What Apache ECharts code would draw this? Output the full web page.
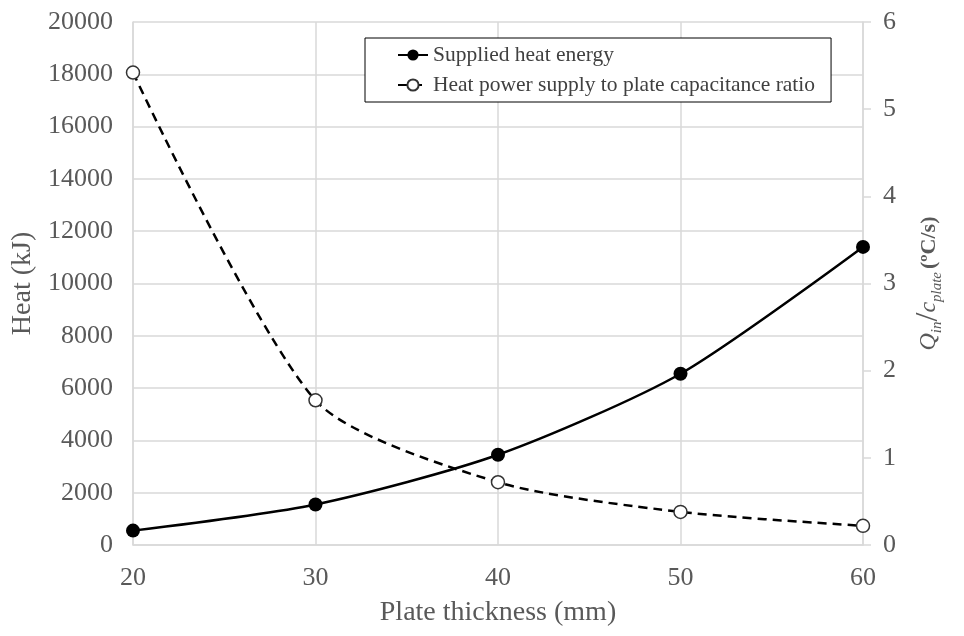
<!DOCTYPE html>
<html>
<head>
<meta charset="utf-8">
<script src="https://cdn.jsdelivr.net/npm/echarts@6/dist/echarts.min.js"></script>
<style>
  html, body { margin: 0; padding: 0; background: #fff; }
  #chart { width: 964px; height: 636px; }
</style>
</head>
<body>
<div id="chart"></div>
<script>
// plate thickness (mm)
var thickness = [20, 30, 40, 50, 60];
// supplied heat energy (kJ), left axis
var heatEnergy = [550, 1550, 3450, 6550, 11400];
// heat power supply / plate capacitance (ºC/s), right axis
var heatRatio = [5.42, 1.66, 0.72, 0.38, 0.22];

var seriesNames = ["Supplied heat energy", "Heat power supply to plate capacitance ratio"];

var FONT = "Liberation Serif";
var GREY = "#595959";
var GRID = "#d9d9d9";

function pairs(xs, ys) {
  return xs.map(function (x, i) { return [x, ys[i]]; });
}

var chart = echarts.init(document.getElementById("chart"), null, { renderer: "canvas" });

var option = {
  backgroundColor: "#fff",
  animation: false,
  textStyle: { fontFamily: FONT },
  grid: { left: 133, right: 101, top: 22, bottom: 91 },
  legend: {
    orient: "vertical",
    left: 365,
    top: 38,
    padding: [6, 16, 6, 32],
    itemWidth: 30,
    itemHeight: 14,
    itemGap: 8,
    borderColor: "#000",
    borderWidth: 1,
    backgroundColor: "#fff",
    textStyle: { fontFamily: FONT, fontSize: 21.5, color: "#404040" },
    data: seriesNames
  },
  xAxis: {
    type: "value",
    min: 20,
    max: 60,
    interval: 10,
    name: "Plate thickness (mm)",
    nameLocation: "middle",
    nameGap: 54,
    nameTextStyle: { fontFamily: FONT, fontSize: 28, color: GREY },
    axisLine: { show: true, lineStyle: { color: GRID, width: 1.5 } },
    axisTick: { show: false },
    axisLabel: { fontFamily: FONT, fontSize: 26, color: GREY, margin: 20 },
    splitLine: { show: true, lineStyle: { color: GRID, width: 1.5 } }
  },
  yAxis: [
    {
      type: "value",
      min: 0,
      max: 20000,
      interval: 2000,
      name: "Heat (kJ)",
      nameLocation: "middle",
      nameRotate: 90,
      nameGap: 88,
      nameTextStyle: { fontFamily: FONT, fontSize: 28, color: GREY },
      axisLine: { show: true, lineStyle: { color: GRID, width: 1.5 } },
      axisTick: { show: false },
      axisLabel: {
        fontFamily: FONT, fontSize: 26, color: GREY, margin: 20,
        formatter: function (v) { return String(v); }
      },
      splitLine: { show: true, lineStyle: { color: GRID, width: 1.5 } }
    },
    {
      type: "value",
      position: "right",
      min: 0,
      max: 6,
      interval: 1,
      name: "{q|Q}{sub|in}{sl|/}{q|c}{sub|plate} {u|(ºC/s)}",
      nameLocation: "middle",
      nameRotate: 90,
      nameGap: 50,
      nameTextStyle: {
        color: GREY,
        rich: {
          q: { fontFamily: FONT, fontStyle: "italic", fontSize: 24, color: GREY, verticalAlign: "middle" },
          sub: { fontFamily: FONT, fontStyle: "italic", fontSize: 15, color: GREY, verticalAlign: "bottom", padding: [10, 0, 0, 0] },
          sl: { fontFamily: FONT, fontSize: 32, color: GREY },
          u: { fontFamily: FONT, fontWeight: "bold", fontSize: 22, color: GREY }
        }
      },
      axisLine: { show: true, lineStyle: { color: GRID, width: 1.5 } },
      axisTick: { show: true, length: 8, lineStyle: { color: GRID, width: 1.5 } },
      axisLabel: { fontFamily: FONT, fontSize: 26, color: GREY, margin: 20 },
      splitLine: { show: false }
    }
  ],
  series: [
    {
      name: seriesNames[0],
      type: "line",
      yAxisIndex: 0,
      smooth: 0.25,
      symbol: "circle",
      symbolSize: 14,
      lineStyle: { color: "#000", width: 2.5 },
      itemStyle: { color: "#000" },
      data: pairs(thickness, heatEnergy),
      z: 3
    },
    {
      name: seriesNames[1],
      type: "line",
      yAxisIndex: 1,
      smooth: 0.25,
      symbol: "circle",
      symbolSize: 13,
      lineStyle: { color: "#000", width: 2.5, type: [9, 6] },
      itemStyle: { color: "#fff", borderColor: "#333", borderWidth: 1.5 },
      data: pairs(thickness, heatRatio),
      z: 4
    }
  ]
};

chart.setOption(option);
</script>
</body>
</html>
